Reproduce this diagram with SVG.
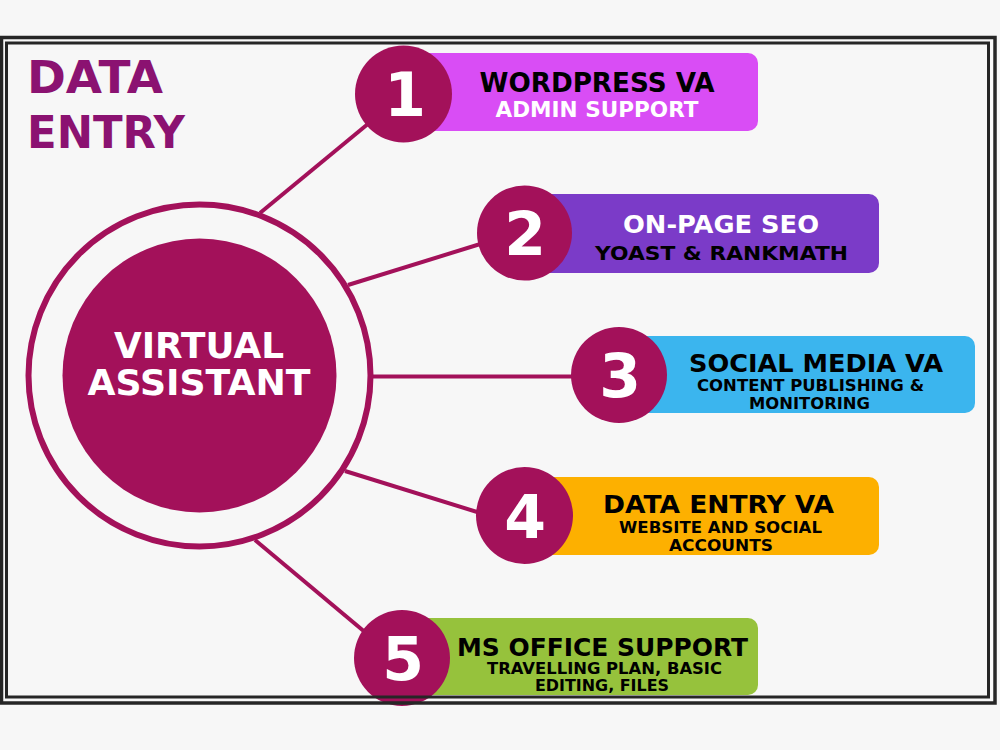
<svg xmlns="http://www.w3.org/2000/svg" width="1000" height="750" viewBox="0 0 1000 750">
<style>
.bg{fill:#f7f7f7}
.conn{stroke:#a3115a;stroke-width:4;fill:none;stroke-linecap:butt}
.num{fill:#a3115a}
.digit{fill:#ffffff;font-family:"DejaVu Sans",sans-serif;font-weight:bold;font-size:60px;text-anchor:middle}
.t{font-family:"DejaVu Sans",sans-serif;font-weight:bold;text-anchor:middle}
.h{font-size:24px}
.s{font-size:19px}
.xs{font-size:15px}
.blk{fill:#000000}
.wht{fill:#ffffff}
.frame{fill:none;stroke:#262626;stroke-width:3.5}
</style>
<rect class="bg" x="0" y="0" width="1000" height="750"/>

<g id="title">
<text class="t" x="27" y="93" style="text-anchor:start;font-size:44px;fill:#8b1271" textLength="136" lengthAdjust="spacingAndGlyphs">DATA</text>
<text class="t" x="27" y="148" style="text-anchor:start;font-size:44px;fill:#8b1271" textLength="158" lengthAdjust="spacingAndGlyphs">ENTRY</text>
</g>

<g id="connectors">
<line class="conn" x1="260" y1="213" x2="380" y2="114"/>
<line class="conn" x1="348" y1="285" x2="490" y2="241"/>
<line class="conn" x1="373" y1="376.5" x2="590" y2="376.5"/>
<line class="conn" x1="345" y1="471" x2="490" y2="516"/>
<line class="conn" x1="255" y1="540" x2="372" y2="638"/>
</g>

<g id="center">
<circle cx="199.5" cy="375.5" r="171" fill="none" stroke="#a3115a" stroke-width="6"/>
<circle cx="199.5" cy="375.5" r="137" fill="#a3115a"/>
<text class="t wht" x="199" y="358" style="font-size:36px" textLength="170" lengthAdjust="spacingAndGlyphs">VIRTUAL</text>
<text class="t wht" x="199" y="395" style="font-size:36px" textLength="223" lengthAdjust="spacingAndGlyphs">ASSISTANT</text>
</g>

<g id="node1">
<rect x="404" y="53" width="354" height="78" rx="10" fill="#d94df5"/>
<circle class="num" cx="403.5" cy="94" r="48.5"/>
<text class="digit" x="405" y="116">1</text>
<text class="t blk" x="597" y="92" style="font-size:26px" textLength="235" lengthAdjust="spacingAndGlyphs">WORDPRESS VA</text>
<text class="t wht" x="597" y="117" style="font-size:22px" textLength="203" lengthAdjust="spacingAndGlyphs">ADMIN SUPPORT</text>
</g>

<g id="node2">
<rect x="525" y="194" width="354" height="79" rx="10" fill="#7b3bc8"/>
<circle class="num" cx="524.5" cy="233" r="47.5"/>
<text class="digit" x="525" y="255">2</text>
<text class="t wht" x="721" y="233" style="font-size:25px" textLength="196" lengthAdjust="spacingAndGlyphs">ON-PAGE SEO</text>
<text class="t blk s" x="721.5" y="260" textLength="253" lengthAdjust="spacingAndGlyphs">YOAST &amp; RANKMATH</text>
</g>

<g id="node3">
<rect x="619" y="336" width="356" height="77" rx="10" fill="#3bb5ee"/>
<circle class="num" cx="619" cy="375" r="48"/>
<text class="digit" x="620" y="397">3</text>
<text class="t blk h" x="816" y="372" textLength="254" lengthAdjust="spacingAndGlyphs">SOCIAL MEDIA VA</text>
<text class="t blk xs" x="810.5" y="391" textLength="227" lengthAdjust="spacingAndGlyphs">CONTENT PUBLISHING &amp;</text>
<text class="t blk xs" x="809.5" y="409" textLength="121" lengthAdjust="spacingAndGlyphs">MONITORING</text>
</g>

<g id="node4">
<rect x="525" y="477" width="354" height="78" rx="10" fill="#fdb000"/>
<circle class="num" cx="524.5" cy="515.5" r="48.5"/>
<text class="digit" x="525" y="538">4</text>
<text class="t blk h" x="718.5" y="513" textLength="231" lengthAdjust="spacingAndGlyphs">DATA ENTRY VA</text>
<text class="t blk" x="720.5" y="533" style="font-size:15.5px" textLength="203" lengthAdjust="spacingAndGlyphs">WEBSITE AND SOCIAL</text>
<text class="t blk" x="721" y="550.5" style="font-size:15.5px" textLength="104" lengthAdjust="spacingAndGlyphs">ACCOUNTS</text>
</g>

<g id="node5">
<rect x="402" y="618" width="356" height="77" rx="10" fill="#96c23c"/>
<circle class="num" cx="402" cy="658" r="48"/>
<text class="digit" x="403" y="680">5</text>
<text class="t blk h" x="602.5" y="656" textLength="291" lengthAdjust="spacingAndGlyphs">MS OFFICE SUPPORT</text>
<text class="t blk xs" x="604.5" y="674" textLength="235" lengthAdjust="spacingAndGlyphs">TRAVELLING PLAN, BASIC</text>
<text class="t blk xs" x="602" y="691" textLength="134" lengthAdjust="spacingAndGlyphs">EDITING, FILES</text>
</g>

<g id="frame">
<rect class="frame" x="1.5" y="37.5" width="993.5" height="665.5"/>
<rect class="frame" x="6.5" y="43" width="982" height="654" style="stroke-width:3"/>
</g>
</svg>
